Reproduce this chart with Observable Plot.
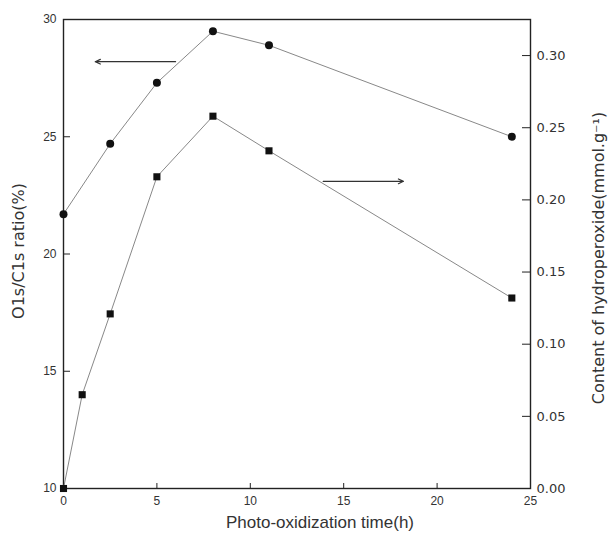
<!DOCTYPE html>
<html><head><meta charset="utf-8">
<script src="https://cdn.jsdelivr.net/npm/d3@7"></script>
<script src="https://cdn.jsdelivr.net/npm/@observablehq/plot@0.6"></script>
<style>body{margin:0;background:#fff}</style>
</head><body><div id="chart"></div>
<script>
// O1s/C1s ratio (left axis, circles)
const timeO = [0, 2.5, 5, 8, 11, 24];
const ratioO = [21.7, 24.7, 27.3, 29.5, 28.9, 25.0];
// Hydroperoxide content (right axis, squares)
const timeH = [0, 1, 2.5, 5, 8, 11, 24];
const hydro = [0.000, 0.065, 0.121, 0.216, 0.258, 0.234, 0.132];
// ticks
const xTicks = [0, 5, 10, 15, 20, 25];
const leftTicks = [10, 15, 20, 25, 30];
const rightTicks = [0, 0.05, 0.10, 0.15, 0.20, 0.25, 0.30];
// arrow annotations (x in hours, y in left-axis units)
const arrowX1 = [6.0, 13.9];
const arrowX2 = [1.7, 18.2];
const arrowY = [28.2, 23.1];

const yMin = 10, yMax = 30, rightMax = 0.325;
const toLeft = v => yMin + v / rightMax * (yMax - yMin);
const fromLeft = y => (y - yMin) / (yMax - yMin) * rightMax;

const W = 613, H = 538, mt = 19, mr = 83, mb = 50, ml = 63;
const iw = W - ml - mr, ih = H - mt - mb;

const dataO = timeO.map((t, i) => ({t, v: ratioO[i]}));
const dataH = timeH.map((t, i) => ({t, v: toLeft(hydro[i])}));
const arrows = arrowX1.map((x1, i) => ({x1, x2: arrowX2[i], y: arrowY[i]}));

const chart = Plot.plot({
  width: W, height: H,
  marginTop: mt, marginRight: mr, marginBottom: mb, marginLeft: ml,
  style: {fontFamily: "Liberation Sans, Arial, sans-serif", fontSize: "12px", color: "#333", background: "#fff"},
  x: {domain: [0, 25]},
  y: {domain: [yMin, yMax]},
  marks: [
    Plot.frame({stroke: "#222", strokeWidth: 1.4}),
    Plot.ruleY(leftTicks, {insetRight: iw - 7, stroke: "#222"}),
    Plot.ruleY(rightTicks.map(toLeft), {insetLeft: iw - 8, stroke: "#222"}),
    Plot.ruleX(xTicks, {insetTop: ih - 5, stroke: "#222"}),
    Plot.axisX(xTicks, {tickSize: 0, tickPadding: 8, label: null, fontSize: 12}),
    Plot.axisY(leftTicks, {anchor: "left", tickSize: 0, tickPadding: 7, label: null, fontSize: 12}),
    Plot.axisY(rightTicks.map(toLeft), {anchor: "right", tickSize: 0, tickPadding: 6, label: null,
      tickFormat: d => d3.format(".2f")(fromLeft(d)), fontFamily: "DejaVu Sans, sans-serif", fontSize: 13}),
    Plot.line(dataO, {x: "t", y: "v", stroke: "#888", strokeWidth: 1}),
    Plot.line(dataH, {x: "t", y: "v", stroke: "#888", strokeWidth: 1}),
    Plot.dot(dataO, {x: "t", y: "v", r: 4, fill: "#111", symbol: "circle"}),
    Plot.dot(dataH, {x: "t", y: "v", r: 4, fill: "#111", symbol: "square"}),
    Plot.arrow(arrows, {x1: "x1", y1: "y", x2: "x2", y2: "y", stroke: "#333", strokeWidth: 1.2, headLength: 7, headAngle: 50}),
    Plot.text(["O1s/C1s ratio(%)"], {frameAnchor: "left", textAnchor: "middle", rotate: -90, dx: -45, dy: -3,
      fontFamily: "DejaVu Sans, sans-serif", fontSize: 16, letterSpacing: "1px", fill: "#333"}),
    Plot.text(["Content of hydroperoxide(mmol.g\u207B\u00B9)"], {frameAnchor: "right", textAnchor: "middle", rotate: -90, dx: 68, dy: 4,
      fontFamily: "DejaVu Sans, sans-serif", fontSize: 16, letterSpacing: "1px", fill: "#333"}),
    Plot.text(["Photo-oxidization time(h)"], {frameAnchor: "bottom", dx: 23, dy: 39,
      fontSize: 17, fill: "#333"})
  ]
});
document.getElementById("chart").appendChild(chart);
</script>
</body></html>
